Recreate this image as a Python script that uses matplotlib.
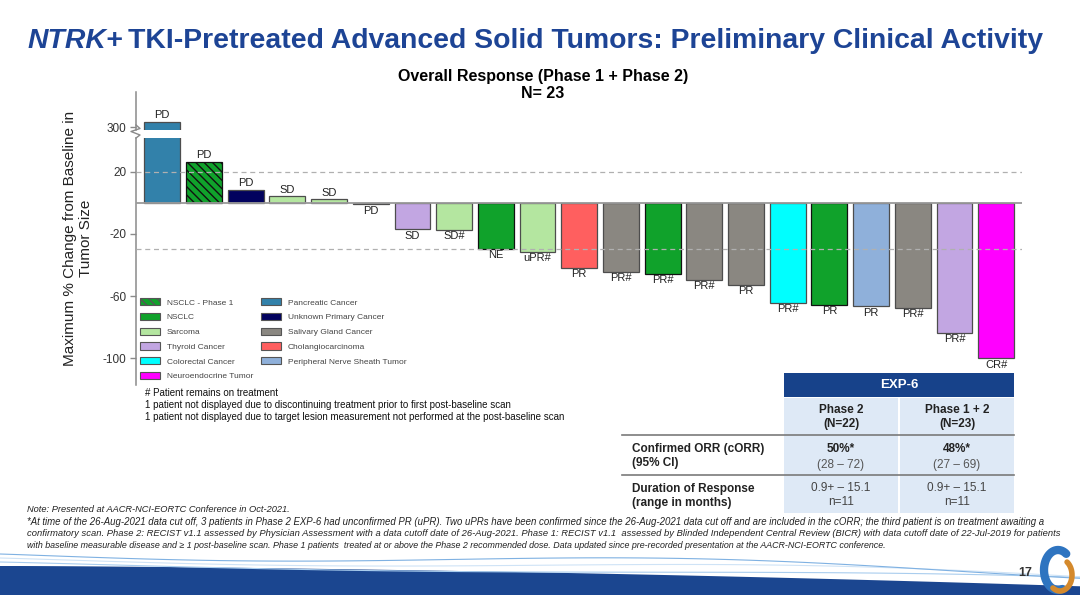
import numpy as np
import matplotlib
matplotlib.use("Agg")
import matplotlib.pyplot as plt
from matplotlib.patches import Patch, Rectangle, Polygon
from matplotlib import font_manager

# bar data (left to right)
values = [303.4, 26.4, 8.4, 4.1, 2.3, -1.0, -17.0, -17.5, -29.5, -31.4, -41.7,
          -44.5, -45.6, -49.5, -52.7, -64.5, -65.6, -66.6, -67.7, -83.6, -100.0]
responses = ["PD", "PD", "PD", "SD", "SD", "PD", "SD", "SD#", "NE", "uPR#", "PR",
             "PR#", "PR#", "PR#", "PR", "PR#", "PR", "PR", "PR#", "PR#", "CR#"]
tumors = ["Pancreatic Cancer", "NSCLC - Phase 1", "Unknown Primary Cancer", "Sarcoma",
          "Sarcoma", "Unknown Primary Cancer", "Thyroid Cancer", "Sarcoma", "NSCLC",
          "Sarcoma", "Cholangiocarcinoma", "Salivary Gland Cancer", "NSCLC",
          "Salivary Gland Cancer", "Salivary Gland Cancer", "Colorectal Cancer", "NSCLC",
          "Peripheral Nerve Sheath Tumor", "Salivary Gland Cancer", "Thyroid Cancer",
          "Neuroendocrine Tumor"]

legend_order = ["NSCLC - Phase 1", "NSCLC", "Sarcoma", "Thyroid Cancer", "Colorectal Cancer",
                "Neuroendocrine Tumor", "Pancreatic Cancer", "Unknown Primary Cancer",
                "Salivary Gland Cancer", "Cholangiocarcinoma", "Peripheral Nerve Sheath Tumor"]
colors = {"NSCLC - Phase 1": "#10a22b", "NSCLC": "#10a22b", "Sarcoma": "#b4e6a0",
          "Thyroid Cancer": "#c2a6e2", "Colorectal Cancer": "#00ffff",
          "Neuroendocrine Tumor": "#ff00ff", "Pancreatic Cancer": "#3281aa",
          "Unknown Primary Cancer": "#02025e", "Salivary Gland Cancer": "#8a8781",
          "Cholangiocarcinoma": "#ff5f5f", "Peripheral Nerve Sheath Tumor": "#8fb0da"}

ref_lines = [20, -30]
low_ticks = [20, -20, -60, -100]
high_ticks = [300]

notes = ["# Patient remains on treatment",
         "1 patient not displayed due to discontinuing treatment prior to first post-baseline scan",
         "1 patient not displayed due to target lesion measurement not performed at the post-baseline scan"]

col_heads = ["Phase 2\n(N=22)", "Phase 1 + 2\n(N=23)"]
row_heads = ["Confirmed ORR (cORR)\n(95% CI)", "Duration of Response\n(range in months)"]
orr_vals = ["50%*", "48%*"]
orr_ci = ["(28 \u2013 72)", "(27 \u2013 69)"]
dor_vals = ["0.9+ \u2013 15.1\nn=11", "0.9+ \u2013 15.1\nn=11"]

footnotes = [
    "Note: Presented at AACR-NCI-EORTC Conference in Oct-2021.",
    "*At time of the 26-Aug-2021 data cut off, 3 patients in Phase 2 EXP-6 had unconfirmed PR (uPR). Two uPRs have been confirmed since the 26-Aug-2021 data cut off and are included in the cORR; the third patient is on treatment awaiting a",
    "confirmatory scan. Phase 2: RECIST v1.1 assessed by Physician Assessment with a data cutoff date of 26-Aug-2021. Phase 1: RECIST v1.1  assessed by Blinded Independent Central Review (BICR) with data cutoff date of 22-Jul-2019 for patients",
    "with baseline measurable disease and \u2265 1 post-baseline scan. Phase 1 patients  treated at or above the Phase 2 recommended dose. Data updated since pre-recorded presentation at the AACR-NCI-EORTC conference.",
]

names = set(f.name for f in font_manager.fontManager.ttflist)
narrow = "Liberation Sans Narrow" if "Liberation Sans Narrow" in names else "Liberation Sans"
plt.rcParams["font.family"] = ["Liberation Sans", "DejaVu Sans"]
plt.rcParams["hatch.linewidth"] = 1.0
plt.rcParams["axes.unicode_minus"] = False

W, H = 1080, 595
fig = plt.figure(figsize=(W / 100, H / 100), dpi=100)
renderer = fig.canvas.get_renderer()

def fx(px):
    return px / W

def fy(py):
    return 1 - py / H

def fit(t, width_px):
    bb = t.get_window_extent(renderer)
    t.set_fontsize(t.get_fontsize() * width_px / bb.width)

# main title
navy = "#1d4495"
t1 = fig.text(fx(27), fy(41), "NTRK+", color=navy, fontsize=18, weight="bold",
              style="italic", va="center", ha="left", family=narrow)
t2 = fig.text(fx(100), fy(41), "TKI-Pretreated Advanced Solid Tumors: Preliminary Clinical Activity",
              color=navy, fontsize=18, weight="bold", va="center", ha="left", family=narrow)
w1 = t1.get_window_extent(renderer).width
w2 = t2.get_window_extent(renderer).width
sc = (1042 - 27 - 6) / (w1 + w2)
t1.set_fontsize(18 * sc)
t2.set_fontsize(18 * sc)
w1 = t1.get_window_extent(renderer).width
t2.set_x(fx(27 + w1 + 6))

t = fig.text(fx(543), fy(77), "Overall Response (Phase 1 + Phase 2)", ha="center", va="center",
             fontsize=10.5, weight="bold", family=narrow)
fit(t, 292)
fig.text(fx(543), fy(94), "N= 23", ha="center", va="center", fontsize=t.get_fontsize(),
         weight="bold", family=narrow)

# axes: lower main part and small top part for the broken bar
ax = fig.add_axes([fx(136), fy(385), fx(1022 - 136), (385 - 138) / H])
axt = fig.add_axes([fx(136), fy(129.5), fx(1022 - 136), (129.5 - 92) / H])

x = np.arange(len(values))
bar_colors = [colors[k] for k in tumors]
hatches = ["\\\\\\\\" if k == "NSCLC - Phase 1" else "" for k in tumors]
edges = ["#111111" if k in ("NSCLC - Phase 1", "NSCLC") else "#4d4d4d" for k in tumors]

for a in (ax, axt):
    for i in range(len(values)):
        a.bar(x[i], values[i], width=0.86, color=bar_colors[i], edgecolor=edges[i],
              linewidth=0.9, hatch=hatches[i], zorder=3)
    a.set_xlim(-0.63, 20.62)
    for s in ("top", "right", "bottom"):
        a.spines[s].set_visible(False)
    a.spines["left"].set_color("#8a8a8a")
    a.spines["left"].set_linewidth(1.1)
    a.set_xticks([])
    a.tick_params(axis="y", length=4, width=1, color="#8a8a8a", labelsize=8.5,
                  labelcolor="#333333", pad=3)

ax.set_ylim(-117.2, 41.6)
axt.set_ylim(298.4, 322.5)
ax.set_yticks(low_ticks)
axt.set_yticks(high_ticks)

ax.axhline(0, color="#9a9a9a", lw=1.3, zorder=4)
for r in ref_lines:
    ax.axhline(r, color="#b0b0b0", lw=0.9, ls=(0, (4, 3)), zorder=5)

# response labels
for i in range(len(values)):
    a = axt if values[i] > 100 else ax
    if values[i] >= 0:
        a.annotate(responses[i], (x[i], values[i]), xytext=(0, 1), textcoords="offset points",
                   ha="center", va="bottom", fontsize=8, color="#222222", zorder=6)
    else:
        a.annotate(responses[i], (x[i], values[i]), xytext=(0, -1), textcoords="offset points",
                   ha="center", va="top", fontsize=8, color="#222222", zorder=6)

# axis break zigzag
zx = [136, 140, 131, 140, 136]
zy = [125, 128.5, 131.5, 135, 138]
fig.add_artist(plt.Line2D([fx(v) for v in zx], [fy(v) for v in zy], color="#8a8a8a", lw=1.0))

fig.text(fx(78), fy(238), "Maximum % Change from Baseline in\nTumor Size", rotation=90,
         ha="center", va="center", fontsize=11, color="#222222", multialignment="center",
         linespacing=1.1)

# legend
handles = []
for k in legend_order:
    handles.append(Patch(facecolor=colors[k], edgecolor="#555555", linewidth=0.8,
                         hatch="\\\\\\\\" if k == "NSCLC - Phase 1" else None))
fig.legend(handles, legend_order, loc="upper left", bbox_to_anchor=(fx(140), fy(298)),
           ncol=2, frameon=False, fontsize=6, handlelength=2.4, handleheight=1.0,
           handletextpad=0.8, labelspacing=0.74, columnspacing=1.0, borderpad=0,
           borderaxespad=0, labelcolor="#444444")

for i, n in enumerate(notes):
    fig.text(fx(145), fy(393 + 12 * i), n, fontsize=7, va="center", ha="left", color="#111111")

# table
tb_blue = "#17428a"
cell = "#dee9f6"
fig.add_artist(Rectangle((fx(784), fy(397)), fx(1014 - 784), 24 / H, color=tb_blue, lw=0))
fig.text(fx(899), fy(385), "EXP-6", color="white", weight="bold", fontsize=9.5,
         ha="center", va="center")
for cx0, cx1 in ((784, 898), (900, 1014)):
    fig.add_artist(Rectangle((fx(cx0), fy(513)), fx(cx1 - cx0), 115 / H, color=cell, lw=0))
for ly in (435, 475):
    fig.add_artist(plt.Line2D([fx(622), fx(1014)], [fy(ly), fy(ly)], color="#7a7a7a", lw=1.2))

col_x = [841, 957]
for j in range(2):
    fig.text(fx(col_x[j]), fy(417), col_heads[j], ha="center", va="center", fontsize=8.5,
             weight="bold", color="#222222", linespacing=1.2)
    fig.text(fx(col_x[j]), fy(449), orr_vals[j], ha="center", va="center", fontsize=8.5,
             weight="bold", color="#222222")
    fig.text(fx(col_x[j]), fy(465), orr_ci[j], ha="center", va="center", fontsize=8.5,
             color="#555555")
    fig.text(fx(col_x[j]), fy(495), dor_vals[j], ha="center", va="center", fontsize=8.5,
             color="#444444", linespacing=1.2)
for i, r in enumerate(row_heads):
    fig.text(fx(632), fy(456 + 40 * i), r, ha="left", va="center", fontsize=8.5,
             weight="bold", color="#222222", linespacing=1.2)

# footnotes
fy_list = [510, 522, 534, 546]
fw_list = [265, 1030, 1030, 866]
for i, line in enumerate(footnotes):
    t = fig.text(fx(27), fy(fy_list[i]), line, ha="left", va="center", fontsize=6,
                 style="italic", color="#222222", family=[narrow, "DejaVu Sans"])
    fit(t, fw_list[i])

# bottom wave decoration
wx = np.linspace(0, W, 60)
top = 566 - 6 * np.sin(wx / W * np.pi * 0.6) + 26 * (wx / W) ** 1.2
pts = [(fx(a), fy(b)) for a, b in zip(wx, top)] + [(1, 0), (0, 0)]
fig.add_artist(Polygon(pts, closed=True, color="#1b4690", lw=0))
for k, c in enumerate(["#a9cdee", "#cfe3f6", "#7fb1e2"]):
    yy = top - 4 - 4 * k + 5 * np.sin(wx / W * np.pi * (1.5 + k * 0.4))
    fig.add_artist(plt.Line2D(fx(wx), fy(yy), color=c, lw=0.8))

fig.text(fx(1025), fy(573), "17", fontsize=9, weight="bold", color="#333333",
         ha="center", va="center")
# logo
th = np.linspace(0.3 * np.pi, 1.6 * np.pi, 40)
fig.add_artist(plt.Line2D(fx(1058 + 14 * np.cos(th)), fy(570 - 20 * np.sin(th)),
                          color="#2e74c0", lw=6, solid_capstyle="round"))
th = np.linspace(1.3 * np.pi, 2.3 * np.pi, 30)
fig.add_artist(plt.Line2D(fx(1060 + 12 * np.cos(th)), fy(575 - 16 * np.sin(th)),
                          color="#d4892c", lw=4, solid_capstyle="round"))

fig.savefig("out.png", dpi=100)
